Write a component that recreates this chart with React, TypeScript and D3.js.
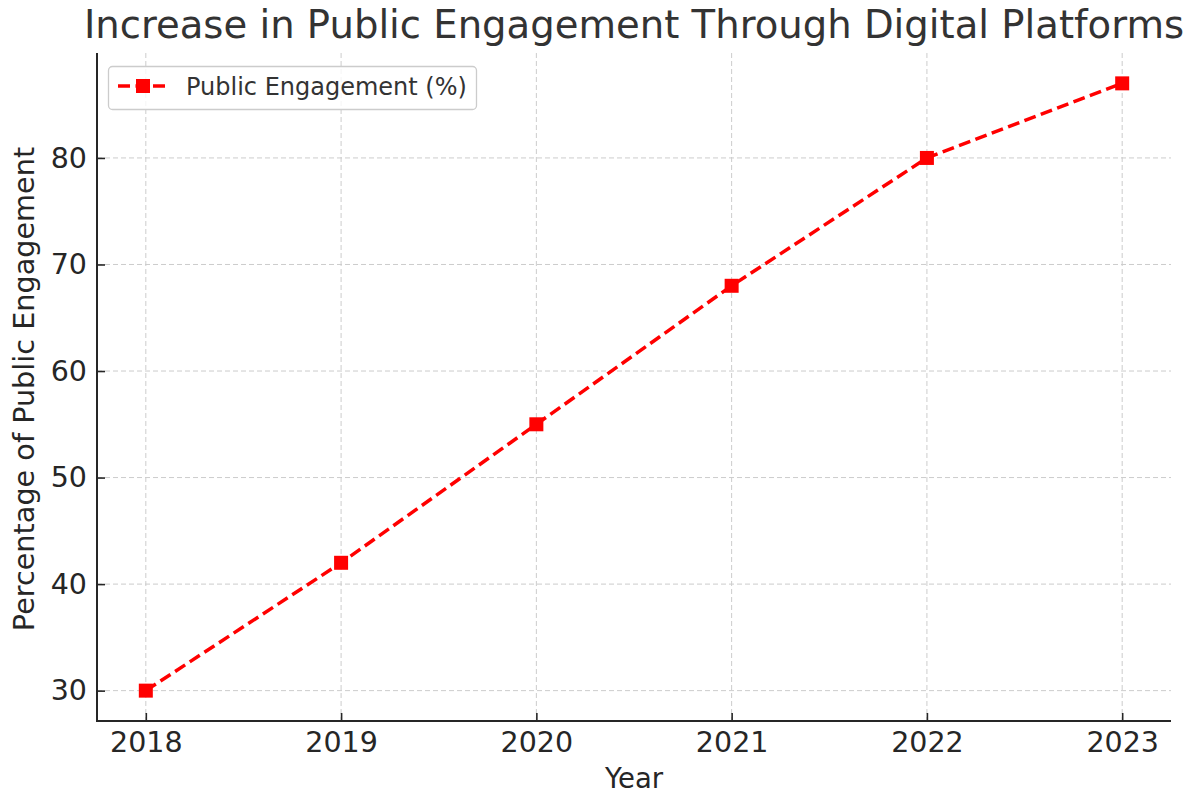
import * as d3 from 'd3';
import React, { useEffect, useRef } from 'react';

const years = [2018, 2019, 2020, 2021, 2022, 2023];
const engagement = [30, 42, 55, 68, 80, 87];
const yTicks = [30, 40, 50, 60, 70, 80];

const seriesName = 'Public Engagement (%)';
const title = 'Increase in Public Engagement Through Digital Platforms';
const xLabel = 'Year';
const yLabel = 'Percentage of Public Engagement';

const W = 1191;
const H = 794;
const FONT = 'DejaVu Sans, sans-serif';

export default function App() {
  const svgRef = useRef<SVGSVGElement>(null);

  useEffect(() => {
    const svg = d3.select(svgRef.current)
      .attr('width', W)
      .attr('height', H)
      .html('');

    const margin = { top: 53, right: 20, bottom: 73, left: 97 };
    const left = margin.left;
    const right = W - margin.right;
    const top = margin.top;
    const bottom = H - margin.bottom;

    const data = years.map((y, i) => ({ year: y, value: engagement[i] }));

    // matplotlib-like 5% padding on both axes
    const xPad = (d3.max(years)! - d3.min(years)!) * 0.05;
    const yPad = (d3.max(engagement)! - d3.min(engagement)!) * 0.05;

    const x = d3.scaleLinear()
      .domain([d3.min(years)! - xPad, d3.max(years)! + xPad])
      .range([left, right]);

    const y = d3.scaleLinear()
      .domain([d3.min(engagement)! - yPad, d3.max(engagement)! + yPad])
      .range([bottom, top]);

    svg.append('rect')
      .attr('width', W).attr('height', H).attr('fill', '#fff');

    // grid
    const grid = svg.append('g')
      .attr('stroke', '#cccccc')
      .attr('stroke-width', 1)
      .attr('stroke-dasharray', '5,3');
    grid.selectAll('.gx').data(years).enter().append('line')
      .attr('x1', d => x(d)).attr('x2', d => x(d))
      .attr('y1', top).attr('y2', bottom);
    grid.selectAll('.gy').data(yTicks).enter().append('line')
      .attr('x1', left).attr('x2', right)
      .attr('y1', d => y(d)).attr('y2', d => y(d));

    // x axis (ticks inward)
    const xAxis = svg.append('g')
      .attr('transform', `translate(0,${bottom})`)
      .call(d3.axisBottom(x).tickValues(years).tickFormat(d3.format('d')).tickSize(-8).tickPadding(11));
    xAxis.select('.domain').remove();
    xAxis.selectAll('line').attr('stroke', '#262626').attr('stroke-width', 1.6);
    xAxis.selectAll('text')
      .attr('font-family', FONT).attr('font-size', 28.5).attr('fill', '#262626');

    const yAxis = svg.append('g')
      .attr('transform', `translate(${left},0)`)
      .call(d3.axisLeft(y).tickValues(yTicks).tickSize(-8).tickPadding(10));
    yAxis.select('.domain').remove();
    yAxis.selectAll('line').attr('stroke', '#262626').attr('stroke-width', 1.6);
    yAxis.selectAll('text')
      .attr('font-family', FONT).attr('font-size', 28.5).attr('fill', '#262626');

    // spines (left + bottom only)
    svg.append('line')
      .attr('x1', left).attr('x2', left).attr('y1', top).attr('y2', bottom + 1)
      .attr('stroke', '#262626').attr('stroke-width', 2);
    svg.append('line')
      .attr('x1', left - 1).attr('x2', right).attr('y1', bottom).attr('y2', bottom)
      .attr('stroke', '#262626').attr('stroke-width', 2);

    // line
    const line = d3.line<{ year: number; value: number }>()
      .x(d => x(d.year))
      .y(d => y(d.value));

    svg.append('path')
      .datum(data)
      .attr('d', line)
      .attr('fill', 'none')
      .attr('stroke', '#ff0000')
      .attr('stroke-width', 3.5)
      .attr('stroke-dasharray', '12,5.5');

    const ms = 14;
    svg.selectAll('.pt').data(data).enter().append('rect')
      .attr('x', d => x(d.year) - ms / 2)
      .attr('y', d => y(d.value) - ms / 2)
      .attr('width', ms).attr('height', ms)
      .attr('fill', '#ff0000');

    // title and labels
    svg.append('text')
      .attr('x', (left + right) / 2).attr('y', 38)
      .attr('text-anchor', 'middle')
      .attr('font-family', FONT).attr('font-size', 38.6).attr('fill', '#333333')
      .text(title);

    svg.append('text')
      .attr('x', (left + right) / 2).attr('y', 788)
      .attr('text-anchor', 'middle')
      .attr('font-family', FONT).attr('font-size', 27.5).attr('fill', '#262626')
      .text(xLabel);

    svg.append('text')
      .attr('transform', `translate(34,${(top + bottom) / 2 + 2}) rotate(-90)`)
      .attr('text-anchor', 'middle')
      .attr('font-family', FONT).attr('font-size', 28.7).attr('fill', '#262626')
      .text(yLabel);

    // legend
    const lg = svg.append('g');
    lg.append('rect')
      .attr('x', 108.5).attr('y', 66.5).attr('width', 368).attr('height', 43)
      .attr('rx', 4)
      .attr('fill', '#fff').attr('fill-opacity', 0.8)
      .attr('stroke', '#cccccc').attr('stroke-width', 1.3);
    lg.append('line')
      .attr('x1', 118).attr('x2', 167).attr('y1', 86).attr('y2', 86)
      .attr('stroke', '#ff0000').attr('stroke-width', 3.5)
      .attr('stroke-dasharray', '12,5.5');
    lg.append('rect')
      .attr('x', 143 - ms / 2).attr('y', 86 - ms / 2)
      .attr('width', ms).attr('height', ms).attr('fill', '#ff0000');
    lg.append('text')
      .attr('x', 186).attr('y', 95)
      .attr('font-family', FONT).attr('font-size', 24).attr('fill', '#333333')
      .text(seriesName);
  }, []);

  return (
    <svg ref={svgRef} style={{ position: 'absolute', left: 0, top: 0, display: 'block' }} />
  );
}
